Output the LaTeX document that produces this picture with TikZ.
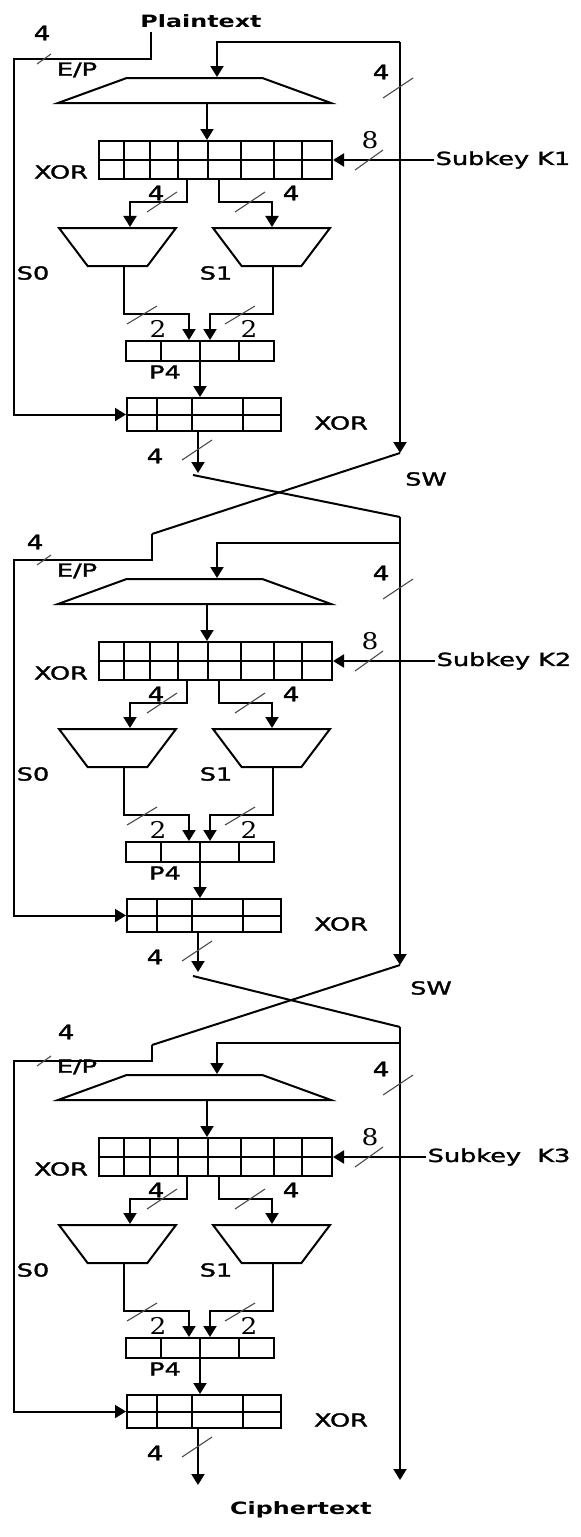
\documentclass[tikz,border=0pt]{standalone}
\usepackage{fontspec}
\setmainfont{DejaVu Sans}
\newfontfamily\lblfont{DejaVu Sans}[FakeBold=1.5]
\newfontfamily\digitfont{DejaVu Serif}
\usetikzlibrary{positioning, arrows.meta, calc, shapes.geometric}

\tikzset{
  wire/.style={line width=2pt, black},
  arr/.style={wire, -{Triangle[length=11pt, width=13pt]}},
  bus/.style={line width=1.1pt, black!70},
  lbl/.style={font=\lblfont\fontsize{18}{20}\selectfont, xscale=1.42, inner sep=1pt},
  num/.style={font=\lblfont\fontsize{20}{22}\selectfont, xscale=1.3, inner sep=1pt},
  snum/.style={font=\digitfont\fontsize{23}{25}\selectfont, xscale=1.15, inner sep=1pt},
  ttl/.style={font=\bfseries\fontsize{17}{20}\selectfont, xscale=1.4, inner sep=1pt},
  regbox/.style={draw, line width=2pt, inner sep=0pt, rectangle},
  trap/.style={draw, line width=2pt, trapezium, trapezium stretches body=true, inner xsep=0pt},
}

\begin{document}
\begin{tikzpicture}[x=1pt, y=-1pt]
  \useasboundingbox (0,0) rectangle (581,1537);

  % input and output
  \node[ttl] (pt) at (201,21) {Plaintext};
  \node[ttl] (ct) at (301,1510) {Ciphertext};

  % ends of the wires between rounds
  \coordinate (lt1) at (151,32);   \coordinate (rt1) at (400,42);
  \coordinate (ot1) at (198,473);  \coordinate (rb1) at (400,453);
  \coordinate (lt2) at (152,534);  \coordinate (rt2) at (400,517);
  \coordinate (ot2) at (198,972);  \coordinate (rb2) at (400,965);
  \coordinate (lt3) at (152,1045); \coordinate (rt3) at (400,1027);
  \coordinate (ot3) at (198,1485); \coordinate (rb3) at (400,1480);
  \coordinate (cs1) at (193,475);  \coordinate (cs2) at (193,976);

  \foreach \r/\dy/\lc/\lp/\kx/\fx/\fy/\k in {
      1/0/59/42/434/42/33/{Subkey K1},
      2/501/560/543/435/35/542/{Subkey K2},
      3/997/1061/1043/426/66/1032/{Subkey\ \ K3}} {
    % boxes
    \node[trap, trapezium angle=20, inner ysep=12.5pt, minimum width=273pt] (ep\r) at (194.5,90.5+\dy) {};
    \node[regbox, minimum width=233pt, minimum height=38pt] (xa\r) at (215.5,160+\dy) {};
    \node[trap, shape border rotate=180, trapezium angle=53, inner ysep=19pt, minimum width=117pt] (sa\r) at (117.5,247+\dy) {};
    \node[trap, shape border rotate=180, trapezium angle=53, inner ysep=19pt, minimum width=117pt] (sb\r) at (271.5,247+\dy) {};
    \node[regbox, minimum width=148pt, minimum height=20pt] (pf\r) at (200,351+\dy) {};
    \node[regbox, minimum width=154pt, minimum height=33pt] (xb\r) at (204,414.5+\dy) {};
    \draw[wire] (xa\r.west) -- (xa\r.east);
    \draw[wire] (xb\r.west) -- (xb\r.east);
    \foreach \f in {.11,.22,.34,.47,.61,.75,.87}
      \draw[wire] ($(xa\r.north west)!\f!(xa\r.north east)$) -- ($(xa\r.south west)!\f!(xa\r.south east)$);
    \foreach \f in {.24,.5,.76}
      \draw[wire] ($(pf\r.north west)!\f!(pf\r.north east)$) -- ($(pf\r.south west)!\f!(pf\r.south east)$);
    \foreach \f in {.2,.42,.75}
      \draw[wire] ($(xb\r.north west)!\f!(xb\r.north east)$) -- ($(xb\r.south west)!\f!(xb\r.south east)$);

    % labels
    \node[lbl] (epl\r) at (77,70+\dy) {E/P};
    \node[lbl] (xal\r) at (61,172+\dy) {XOR};
    \node[lbl] (sal\r) at (33,273+\dy) {S0};
    \node[lbl] (sbl\r) at (216,273+\dy) {S1};
    \node[lbl] (pfl\r) at (165,372+\dy) {P4};
    \node[lbl] (xbl\r) at (341,423+\dy) {XOR};
    \node[lbl, anchor=west] (key\r) at (\kx,160+\dy) {\k};
    \node[num] (nl\r) at (\fx,\fy) {4};
    \node[num] (nr\r) at (381,72+\dy) {4};
    \node[snum] (nk\r) at (370,140+\dy) {8};
    \node[num] (na\r) at (156,193+\dy) {4};
    \node[num] (nb\r) at (291,193+\dy) {4};
    \node[snum] (nc\r) at (158,329+\dy) {2};
    \node[snum] (nd\r) at (249,329+\dy) {2};
    \node[num] (no\r) at (155,456+\dy) {4};

    % wires
    \coordinate (lp\r) at (400,\lp);
    \draw[arr] (lp\r) -| (ep\r.north -| 217,0);
    \draw[arr] (ep\r.south -| 207,0) -- (xa\r.north -| 207,0);
    \draw[arr] (key\r.west) -- (xa\r.east);
    \draw[arr] (xa\r.south -| 187,0) |- (130,202+\dy) -- (sa\r.north -| 130,0);
    \draw[arr] (xa\r.south -| 219,0) |- (272,202+\dy) -- (sb\r.north -| 272,0);
    \draw[arr] (sa\r.south -| 124,0) |- (189,314+\dy) -- (pf\r.north -| 189,0);
    \draw[arr] (sb\r.south -| 273,0) |- (210,314+\dy) -- (pf\r.north -| 210,0);
    \draw[arr] (pf\r.south) -- (xb\r.north -| pf\r.south);
    \draw[arr] (lt\r) |- (14,\lc) |- (xb\r.west);
    \draw[arr] (rt\r) -- (rb\r);
    \draw[arr] (xb\r.south -| 198,0) -- (ot\r);

    % bus widths
    \draw[bus] (44,\lc) +(-7,5) -- +(7,-5);
    \draw[bus] (398,88+\dy) +(-15,10) -- +(15,-10);
    \draw[bus] (369,160+\dy) +(-14,10) -- +(14,-10);
    \draw[bus] (162,202+\dy) +(-15,10) -- +(15,-10);
    \draw[bus] (250,202+\dy) +(-15,10) -- +(15,-10);
    \draw[bus] (142,315+\dy) +(-15,9) -- +(15,-9);
    \draw[bus] (240,315+\dy) +(-15,9) -- +(15,-9);
    \draw[bus] (197,450+\dy) +(-15,10) -- +(15,-10);
  }

  % swaps
  \draw[wire] (cs1) -- (rt2);
  \draw[wire] (rb1) -- (lt2);
  \draw[wire] (cs2) -- (rt3);
  \draw[wire] (rb2) -- (lt3);
  \node[lbl] (sw1) at (426,479) {SW};
  \node[lbl] (sw2) at (431,988) {SW};
\end{tikzpicture}
\end{document}
